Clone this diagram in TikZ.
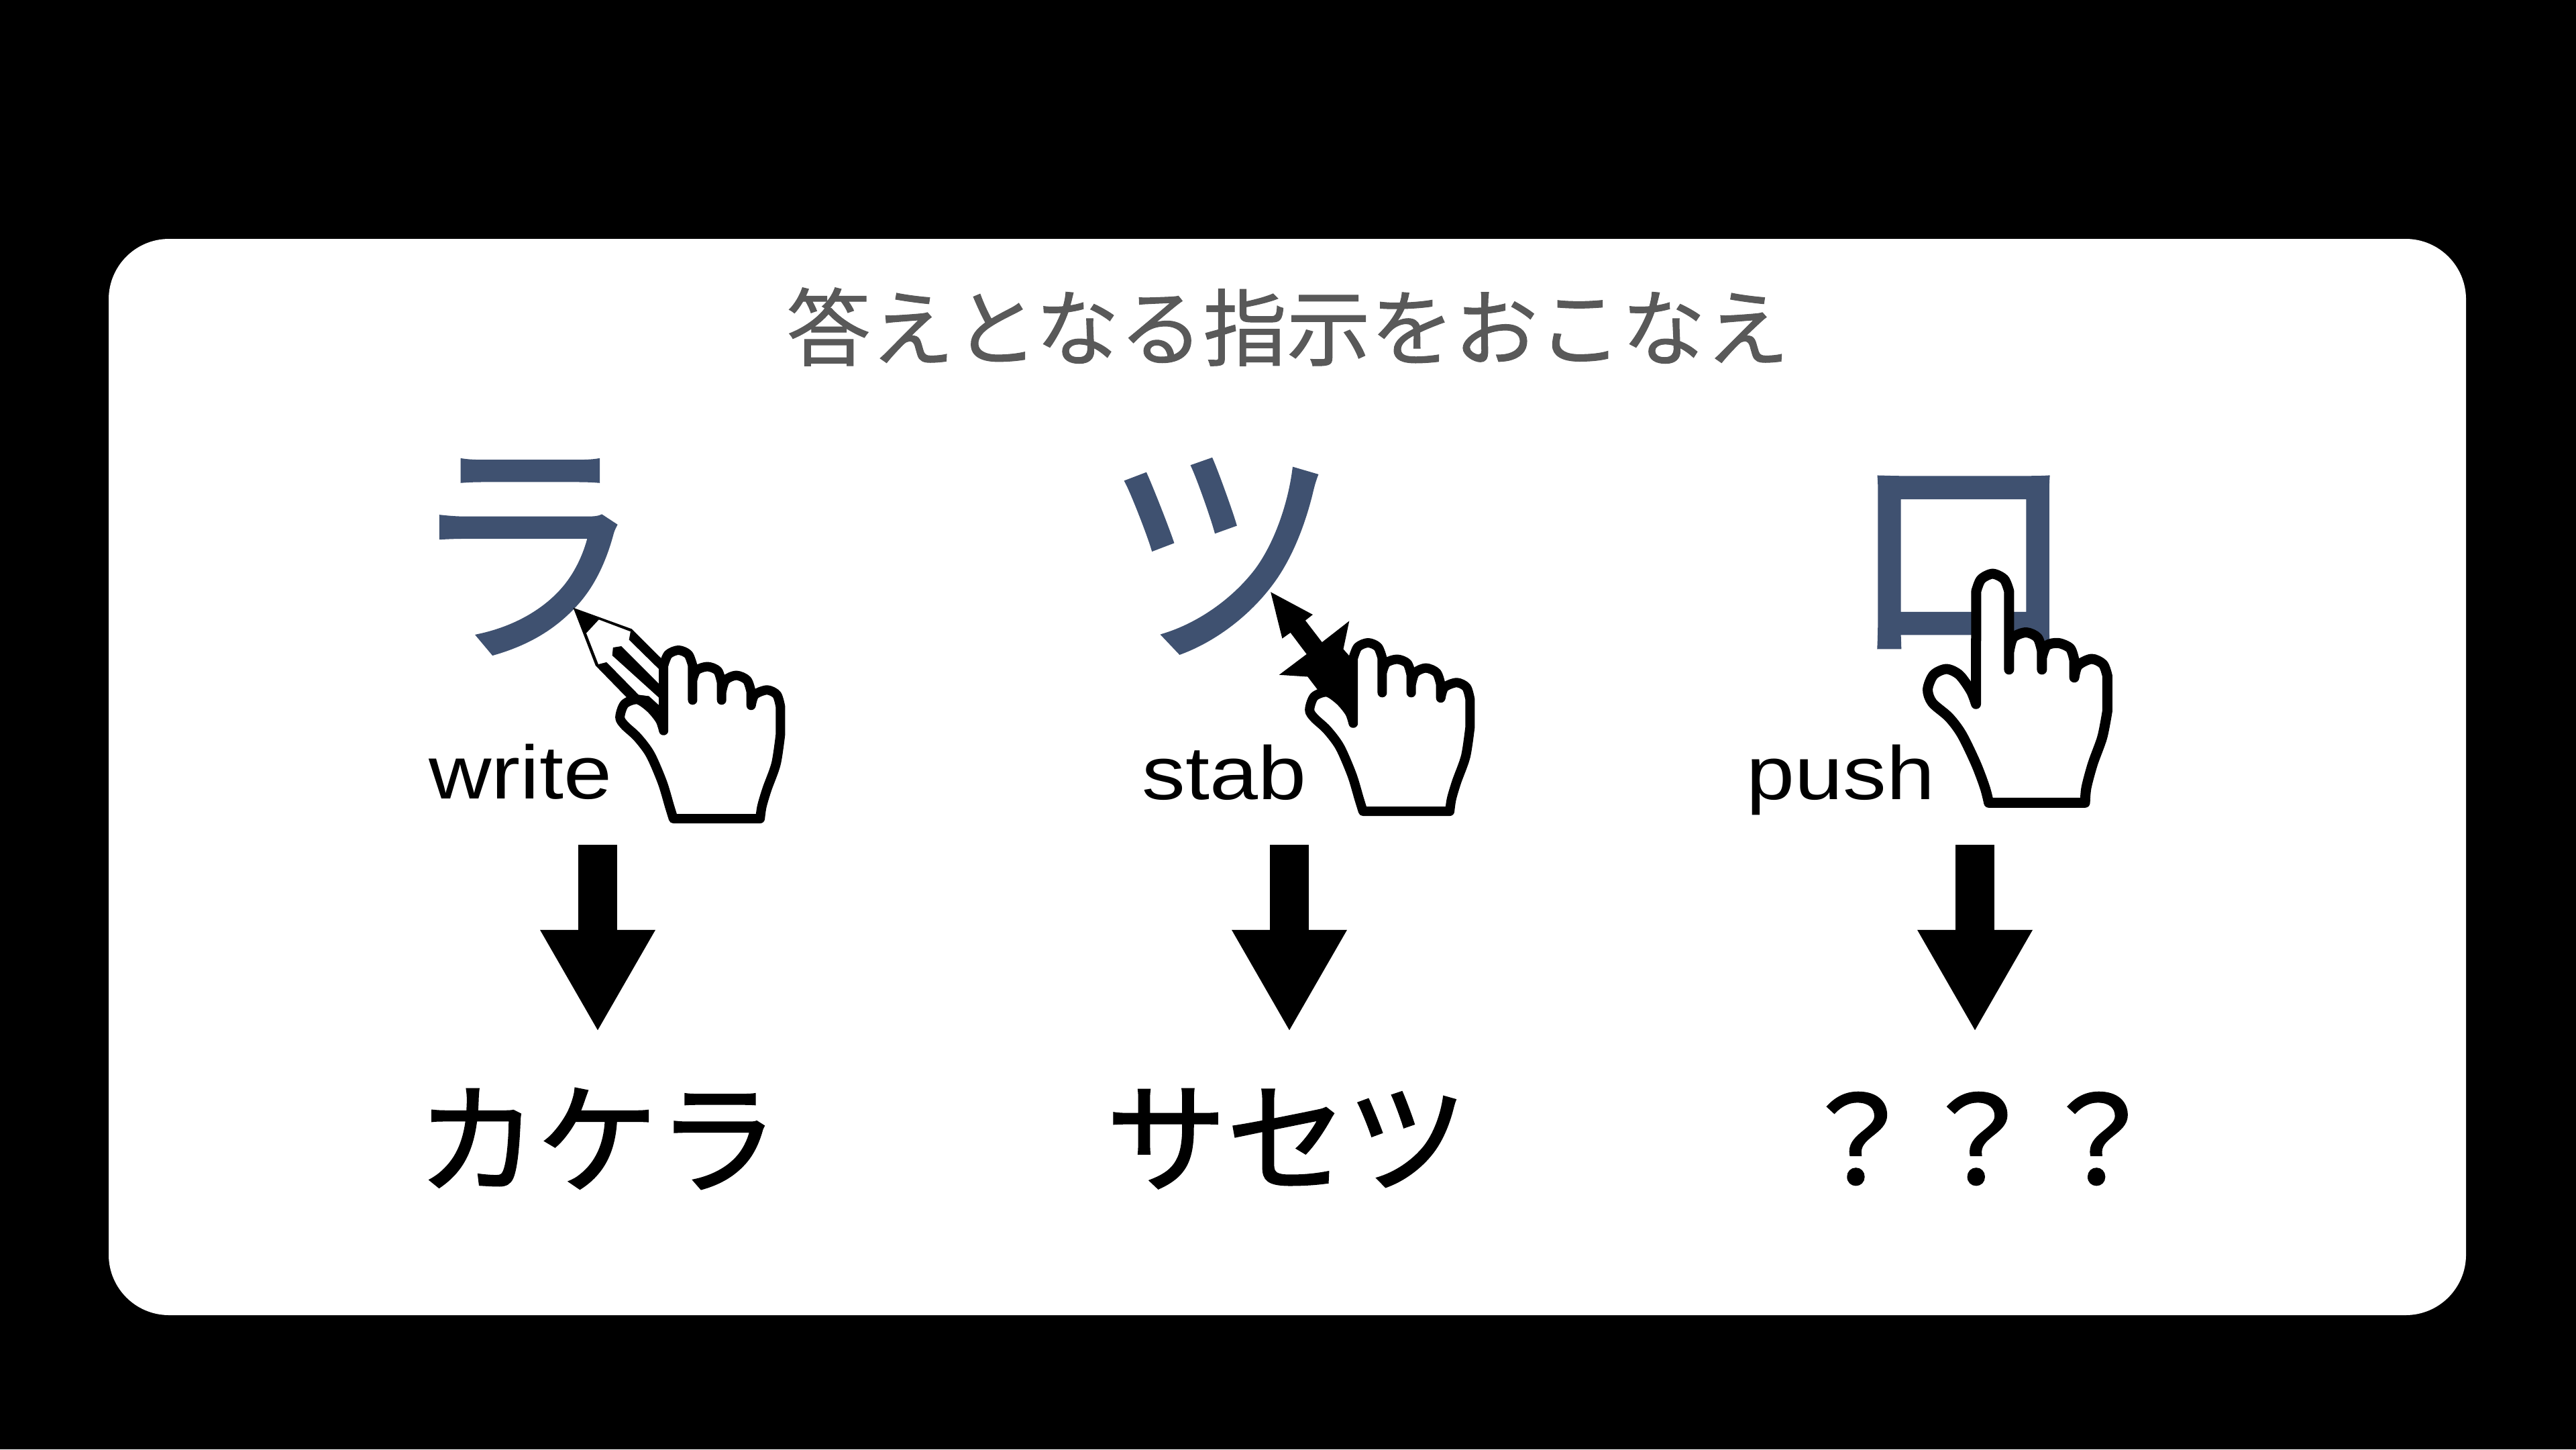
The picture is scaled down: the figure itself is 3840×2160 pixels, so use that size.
\documentclass[tikz,border=0pt]{standalone}
\usepackage{fontspec}
\usetikzlibrary{arrows.meta}
\setmainfont{Noto Sans CJK JP}
\newfontfamily\latinfont{Liberation Sans}
\newfontfamily\kanafont[FakeBold=1.6]{Noto Sans CJK JP}
\newfontfamily\resultfont[FakeBold=1.8]{Noto Sans CJK JP}
\newfontfamily\titlefont[FakeBold=0.8]{Noto Sans CJK JP}
\definecolor{kanacol}{HTML}{3F5170}
\definecolor{titlecol}{HTML}{595959}
\tikzset{
  kana/.style={text=kanacol,inner sep=0pt,yscale=1.04,font=\kanafont\fontsize{100}{100}\selectfont},
  verb/.style={anchor=base,inner sep=0pt,xscale=1.15,font=\latinfont\fontsize{32}{32}\selectfont},
  result/.style={inner sep=0pt,font=\resultfont\fontsize{51}{51}\selectfont},
  downarrow/.style={line width=0.58cm,-{Triangle[width=1.6cm,length=1.52cm]}},
  handline/.style={draw=black,fill=white,line cap=round,line join=round,xscale=0.3827,yscale=0.3954},
  fisthand/.pic={
    \filldraw[handline,line width=0.14cm]
      plot[smooth] coordinates {(1358,1040) (1372,1000) (1420,982) (1458,1000) (1472,1045)}
      -- plot[smooth] coordinates {(1472,1150) (1455,1260) (1420,1355) (1400,1420) (1393,1467)}
      -- plot[smooth] coordinates {(1055,1467) (1040,1420) (1012,1330) (965,1225) (915,1160) (865,1115) (847,1085) (865,1035) (915,1018) (965,1050) (1003,1095) (1017,1135)}
      -- plot[smooth] coordinates {(1017,890) (1035,848) (1075,832) (1113,848) (1130,890)} -- (1130,1020)
      plot[smooth] coordinates {(1130,945) (1145,908) (1188,894) (1228,910) (1243,955)} -- (1243,1020)
      plot[smooth] coordinates {(1243,990) (1258,945) (1300,927) (1342,945) (1358,990)} -- (1358,1040);
  },
  pointhand/.pic={
    \filldraw[handline,line width=0.15cm]
      plot[smooth] coordinates {(1338,935) (1352,890) (1405,865) (1450,885) (1467,930)}
      -- plot[smooth] coordinates {(1467,1060) (1447,1160) (1410,1260) (1385,1350) (1380,1407)}
      -- plot[smooth] coordinates {(1005,1407) (990,1350) (955,1260) (900,1150) (850,1085) (785,1030) (767,980) (790,925) (840,903) (890,925) (935,985) (955,1035)}
      -- plot[smooth] coordinates {(956,610) (975,565) (1020,544) (1065,565) (1084,610)} -- (1084,905)
      plot[smooth] coordinates {(1084,840) (1100,785) (1150,765) (1195,785) (1212,835)} -- (1212,905)
      plot[smooth] coordinates {(1212,860) (1230,815) (1275,805) (1322,825) (1338,870)} -- (1338,930);
  }
}
\begin{document}
\begin{tikzpicture}[x=0.01cm,y=-0.01cm]
  \useasboundingbox (0,0) rectangle (3840,2160);
  \fill[black] (0,0) rectangle (3840,2160);
  \fill[white,rounded corners=0.9cm] (162,356) rectangle (3676,1960);
  \node[text=titlecol,inner sep=0pt,font=\titlefont\fontsize{35.5}{36}\selectfont] (title) at (1920,487) {答えとなる指示をおこなえ};
  % big letters
  \node[kana] (kanara) at (784,830) {ラ};
  \node[kana] (kanatsu) at (1821,829) {ツ};
  \node[kana] (kanaro) at (2926,838) {ロ};
  % pen
  \begin{scope}[shift={(600,640)},xscale=0.3827,yscale=0.3954]
    \fill[black] (665,672) -- (893,752) -- (1010,865) -- (1010,1060) -- (900,1040) -- (875,1012) -- (752,890) -- cycle;
    \fill[white] (765,717) -- (888,762) -- (882,793) -- (1000,905) -- (1000,1040) -- (960,1005) -- (920,1000) -- (795,877) -- (763,885) -- (716,768) -- cycle;
    \fill[black] (820,822) -- (852,817) -- (1000,960) -- (1000,1012) -- (817,852) -- cycle;
  \end{scope}
  % stabbing tool
  \begin{scope}[shift={(1650,640)},xscale=0.3827,yscale=0.3954]
    \fill[black] (638,613) -- (802,698) -- (773,720) -- (838,802) -- (944,722) -- (921,828) -- (950,860) -- (975,1100) -- (900,1050) -- (820,980) -- (782,932) -- (671,925) -- (778,847) -- (715,766) -- (683,788) -- cycle;
  \end{scope}
  \pic at (600,640) {fisthand};
  \pic at (1628,629) {fisthand};
  \pic at (2580,640) {pointhand};
  \node[verb] (verbwrite) at (776,1190) {write};
  \node[verb] (verbstab) at (1825,1191) {stab};
  \node[verb] (verbpush) at (2744,1191) {push};
  \node[result] (reswrite) at (891,1697) {カケラ};
  \node[result] (resstab) at (1918,1697) {サセツ};
  \node[result] (respush) at (2948,1697) {？？？};
  \foreach \x/\nam in {891/write,1922/stab,2944/push} {
    \coordinate (top\nam) at (\x,1259);
    \coordinate (tip\nam) at (\x,1538);
    \draw[downarrow] (top\nam) -- (tip\nam);
  }
\end{tikzpicture}
\end{document}
